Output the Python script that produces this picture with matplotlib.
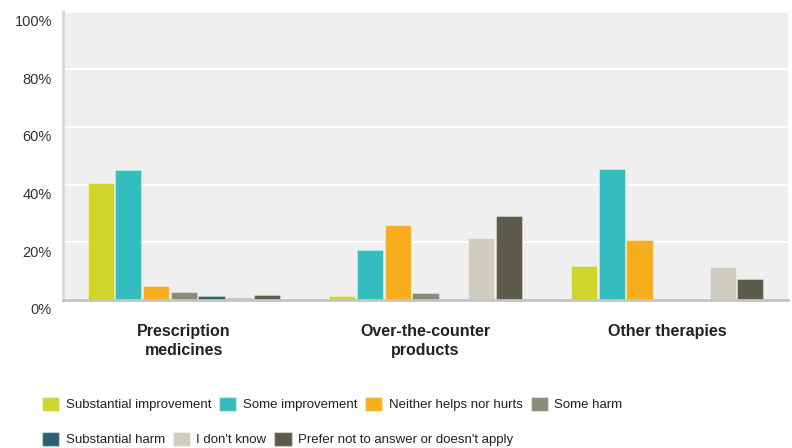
import numpy as np
import matplotlib
matplotlib.use('Agg')
from matplotlib import pyplot as plt
from matplotlib.patches import Patch
from matplotlib.transforms import ScaledTranslation

# Data
categories = ['Prescription\nmedicines', 'Over-the-counter\nproducts', 'Other therapies']
seriesNames = [
    'Substantial improvement', 'Some improvement', 'Neither helps nor hurts',
    'Some harm', 'Substantial harm', "I don't know",
    "Prefer not to answer or doesn't apply"
]
substantialImprovement = [40.4, 1.3, 11.9]
someImprovement = [45.0, 17.3, 45.5]
neitherHelpsNorHurts = [4.9, 25.9, 20.9]
someHarm = [2.7, 2.3, 0.0]
substantialHarm = [1.3, 0.0, 0.0]
dontKnow = [1.2, 21.4, 11.3]
preferNot = [1.8, 29.0, 7.3]
yTicks = [0, 20, 40, 60, 80, 100]
yTickLabels = ['0%', '20%', '40%', '60%', '80%', '100%']

seriesValues = [
    substantialImprovement, someImprovement, neitherHelpsNorHurts,
    someHarm, substantialHarm, dontKnow, preferNot
]
colors = ['#d0d52a', '#33bdbe', '#f6ae1f', '#888a7a', '#2d5f6e', '#cfcdbf', '#5c5b4a']

plt.rcParams['font.family'] = ['Liberation Sans', 'DejaVu Sans']

fig = plt.figure(figsize=(7.92, 4.48), dpi=100)
ax = fig.add_axes([63 / 792, 1 - 300 / 448, 725 / 792, 288.5 / 448])
ax.set_facecolor('#efefef')

x = np.arange(len(categories))
step = 0.1146
width = 0.108
for (i, vals) in enumerate(seriesValues):
    offset = (i - 3) * step
    ax.bar(x + offset, vals, width=width, color=colors[i],
           edgecolor=(1, 1, 1, 0.35), linewidth=0.8, zorder=3)

ax.set_xlim(-0.5, 2.5)
ax.set_ylim(0, 100)
ax.set_yticks(yTicks)
ax.set_yticklabels(yTickLabels, fontsize=10.5, color='#333333')
ax.set_xticks(x)
ax.set_xticklabels(categories, fontsize=11.5, fontweight='bold', color='#222222',
                   linespacing=1.4)
ax.tick_params(axis='both', length=0)
ax.tick_params(axis='y', pad=8)
ax.tick_params(axis='x', pad=17)
# y labels sit a bit below their gridlines in the reference
for lbl in ax.get_yticklabels():
    lbl.set_transform(lbl.get_transform() + ScaledTranslation(0, -9 / 100, fig.dpi_scale_trans))

ax.grid(axis='y', color='white', linewidth=1.5, zorder=1)
for side in ['top', 'right']:
    ax.spines[side].set_visible(False)
ax.spines['left'].set_color('#d8d8d8')
ax.spines['left'].set_linewidth(2)
ax.spines['bottom'].set_color('#c4c4c4')
ax.spines['bottom'].set_linewidth(2)
ax.spines['bottom'].set_zorder(4)

handles = [Patch(facecolor=c, edgecolor=(1, 1, 1, 0.4)) for c in colors]
legFont = {'family': 'Liberation Sans', 'size': 9.5}
for (rows, ypos) in [((0, 4), 404), ((4, 7), 439)]:
    h = handles[rows[0]:rows[1]]
    lab = seriesNames[rows[0]:rows[1]]
    leg = fig.legend(h, lab, loc='center left', ncol=len(h),
                     bbox_to_anchor=(30 / 792, 1 - ypos / 448), frameon=False,
                     prop=legFont, handlelength=1.3, handleheight=1.3,
                     handletextpad=0.5, columnspacing=0.6, labelcolor='#222222')

fig.savefig('out.png', dpi=100)
